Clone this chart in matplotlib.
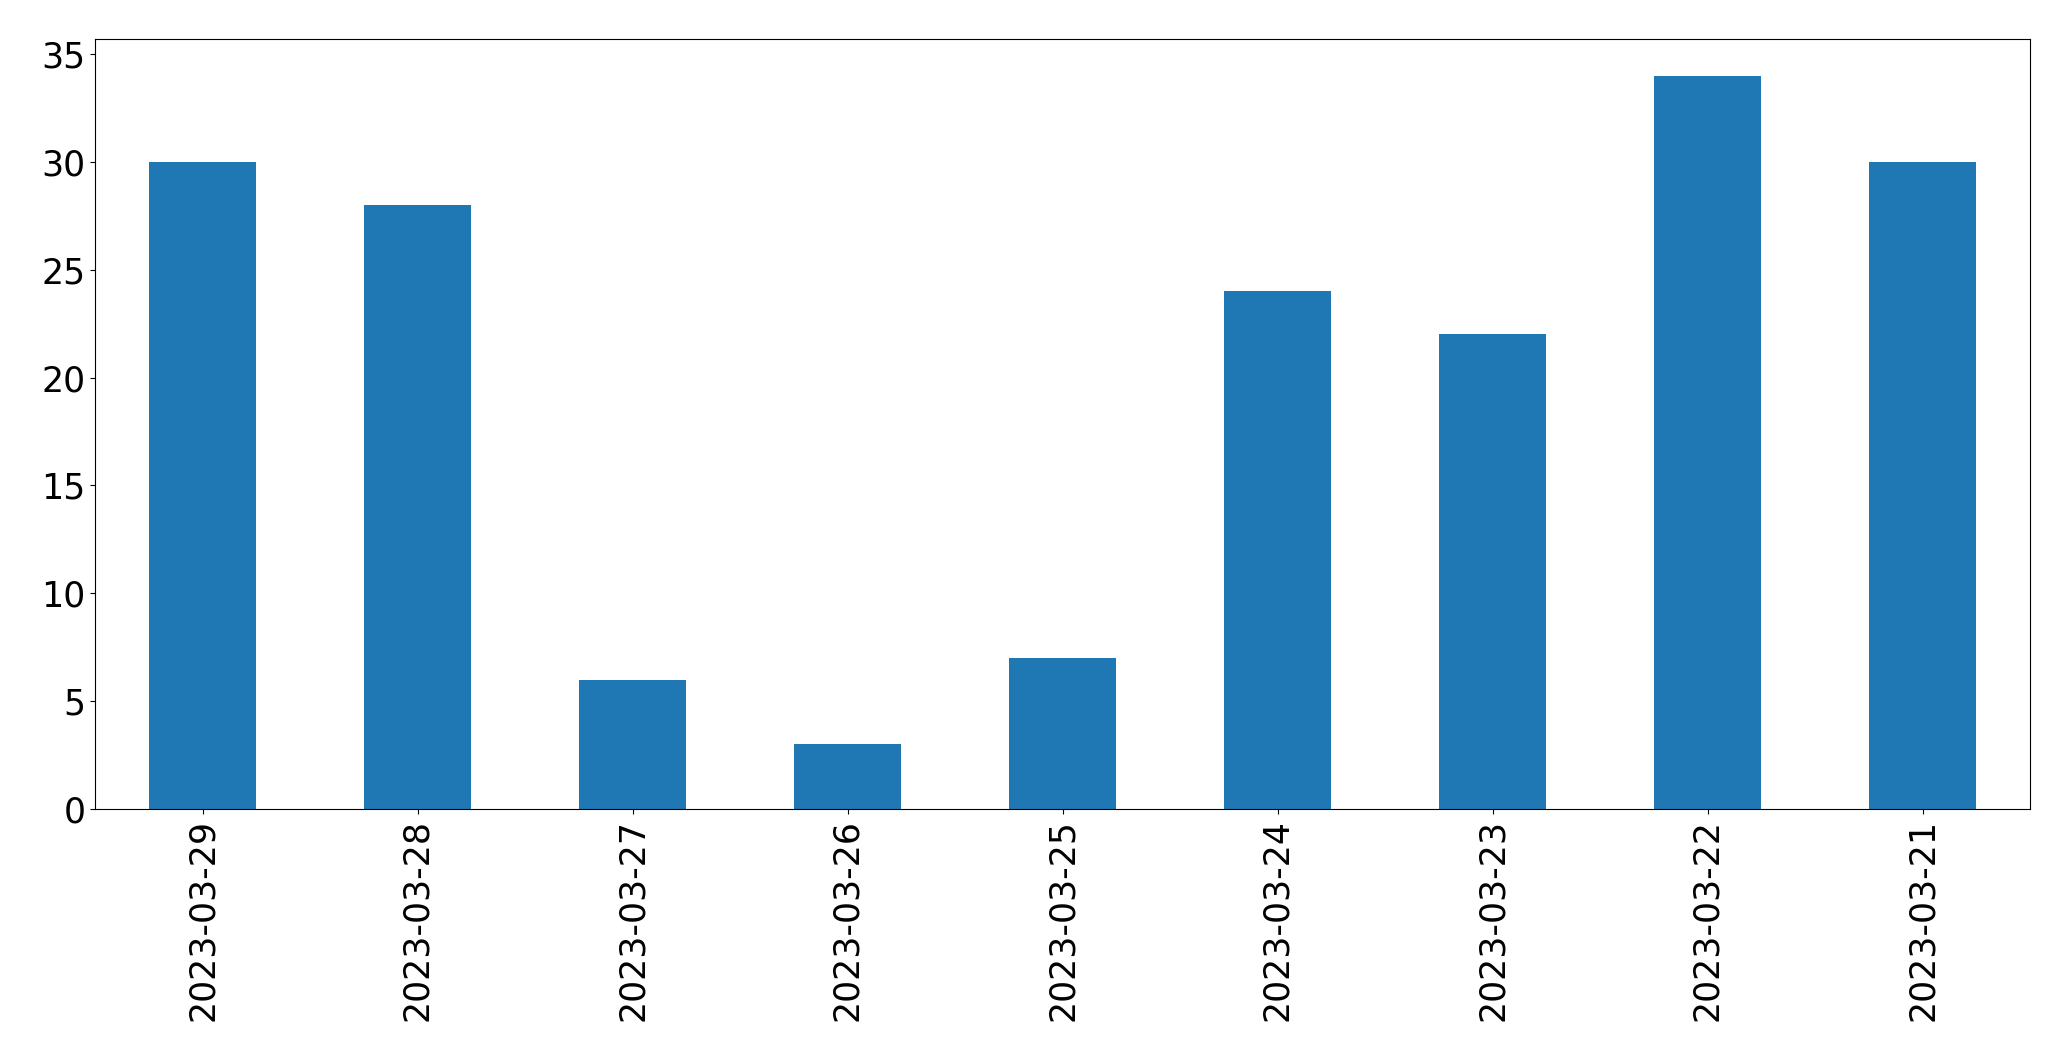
import matplotlib
matplotlib.use("Agg")
import matplotlib.pyplot as plt

dates = ["2023-03-29", "2023-03-28", "2023-03-27", "2023-03-26", "2023-03-25",
         "2023-03-24", "2023-03-23", "2023-03-22", "2023-03-21"]
counts = [30, 28, 6, 3, 7, 24, 22, 34, 30]

fig = plt.figure(figsize=(20.71, 10.61), dpi=100)
ax = fig.add_axes([95 / 2071, 1 - 809 / 1061, (2030 - 95) / 2071, (809 - 39) / 1061])
x = list(range(len(dates)))
ax.bar(x, counts, width=0.5, color="#1f77b4")
ax.set_xlim(-0.5, len(dates) - 0.5)
ax.set_ylim(0, max(counts) * 1.05)
ax.set_xticks(x)
ax.set_xticklabels(dates, rotation=90)
ax.set_yticks([0, 5, 10, 15, 20, 25, 30, 35])
ax.tick_params(labelsize=25)
fig.savefig("out.png", dpi=100)
